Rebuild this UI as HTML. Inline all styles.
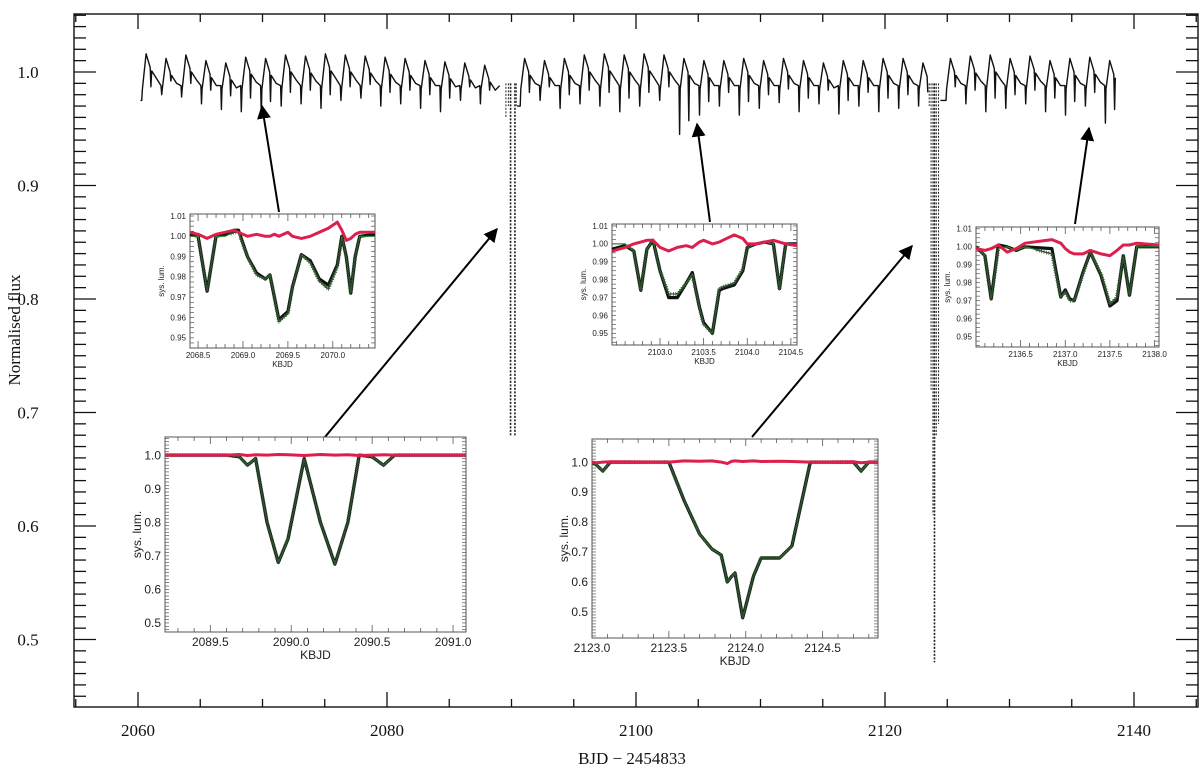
<!DOCTYPE html>
<html><head><meta charset="utf-8"><style>
html,body{margin:0;padding:0;background:#fff}
svg{display:block}
.ax{font-family:"Liberation Serif","DejaVu Serif",serif;font-size:17px;fill:#111}
.in{font-family:"Liberation Sans","DejaVu Sans",sans-serif;fill:#222}
</style></head><body>
<svg id="chart" xmlns="http://www.w3.org/2000/svg" width="1200" height="773" viewBox="0 0 1200 773">
<defs><marker id="ah" viewBox="0 0 10 10" refX="9" refY="5" markerWidth="7" markerHeight="7" orient="auto-start-reverse"><path d="M0,0 L10,5 L0,10 z" fill="#000"/></marker></defs>
<g id="main"></g>
<g id="arrows"></g>
<g id="insets"></g>
</svg>
<script>
// main light curve cycle data
const dipT=[2060.3,2061.9,2063.5,2065.1,2066.7,2068.3,2069.9,2071.5,2073.1,2074.7,2076.3,2077.9,2079.5,2081.1,2082.7,2084.3,2085.9,2087.5,2090.7,2092.3,2093.9,2095.5,2097.1,2098.7,2100.3,2101.9,2103.5,2105.1,2106.7,2108.3,2109.9,2111.5,2113.1,2114.7,2116.3,2117.9,2119.5,2121.1,2122.7,2124.9,2126.5,2128.1,2129.7,2131.3,2132.9,2134.5,2136.1,2137.7];
const dipF=[0.975,0.980,0.978,0.972,0.967,0.965,0.962,0.970,0.972,0.968,0.975,0.977,0.970,0.972,0.968,0.965,0.975,0.972,0.970,0.975,0.968,0.972,0.970,0.965,0.970,0.975,0.945,0.962,0.970,0.962,0.968,0.973,0.965,0.972,0.963,0.970,0.965,0.968,0.970,0.975,0.972,0.965,0.968,0.972,0.965,0.962,0.970,0.955];
const peakF=[1.016,1.012,1.015,1.010,1.008,1.013,1.012,1.015,1.014,1.016,1.015,1.014,1.013,1.012,1.010,1.009,1.008,1.006,1.012,1.010,1.012,1.015,1.016,1.015,1.016,1.015,1.012,1.010,1.010,1.012,1.010,1.012,1.010,1.008,1.010,1.010,1.012,1.012,1.008,1.012,1.014,1.015,1.012,1.014,1.010,1.012,1.013,1.010];
const segStart=[2060.2,2090.45,2124.45];
const segEnd=[2089.3,2123.45,2138.8];
const ecl1T=[2089.55,2089.75,2089.9,2089.95,2090.25,2090.3,2090.38];
const ecl1Min=[0.96,0.97,0.68,0.68,0.68,0.68,0.97];
const ecl2T=[2123.55,2123.7,2123.85,2123.95,2124.0,2124.12,2124.3];
const ecl2Min=[0.97,0.72,0.61,0.48,0.48,0.68,0.69];
const xTickLabels=["2060","2080","2100","2120","2140"];
const yTickLabels=["0.5","0.6","0.7","0.8","0.9","1.0"];

// inset data
const aT=[2068.41,2068.5,2068.6,2068.7,2068.8,2068.9,2068.95,2069.05,2069.15,2069.25,2069.3,2069.35,2069.4,2069.5,2069.55,2069.65,2069.75,2069.85,2069.95,2070.05,2070.1,2070.15,2070.2,2070.25,2070.3,2070.47];
const aModel=[1.0,1.0,0.973,1.0,1.0,1.002,1.002,0.99,0.981,0.979,0.981,0.97,0.958,0.962,0.975,0.991,0.987,0.978,0.974,0.985,1.0,0.99,0.972,0.99,1.0,1.0];
const aData=[1.001,1.0,0.973,1.0,1.001,1.003,1.003,0.99,0.982,0.979,0.981,0.97,0.959,0.963,0.975,0.991,0.988,0.979,0.976,0.986,1.0,0.99,0.972,0.99,1.0,1.001];
const aRes=[1.002,1.001,0.999,1.001,1.002,1.003,1.002,1.0,1.001,1.0,1.0,1.001,1.0,1.002,1.0,0.999,1.0,1.002,1.004,1.007,1.003,0.998,0.999,1.001,1.002,1.002];
const bT=[2089.22,2089.6,2089.68,2089.73,2089.78,2089.85,2089.92,2089.98,2090.08,2090.18,2090.27,2090.35,2090.42,2090.5,2090.57,2090.64,2091.08];
const bModel=[1.0,1.0,0.995,0.97,0.99,0.8,0.68,0.75,0.99,0.8,0.675,0.8,1.0,0.995,0.97,1.0,1.0];
const bRes=[1.0,1.0,1.002,0.999,1.001,1.0,1.002,1.001,0.999,1.002,1.0,1.001,0.999,1.0,1.001,1.0,1.0];
const cT=[2123.0,2123.03,2123.07,2123.12,2123.5,2123.6,2123.7,2123.78,2123.84,2123.88,2123.91,2123.93,2123.98,2124.05,2124.1,2124.22,2124.3,2124.42,2124.7,2124.75,2124.8,2124.86];
const cModel=[1.0,0.99,0.97,1.0,1.0,0.87,0.76,0.71,0.69,0.6,0.62,0.63,0.48,0.62,0.68,0.68,0.72,1.0,1.0,0.97,1.0,1.0];
const cRes=[1.0,0.998,1.0,1.001,1.0,1.004,1.003,1.004,1.0,0.995,1.003,1.004,1.002,1.004,1.002,1.003,1.002,1.0,1.001,0.998,1.0,1.0];
const dT=[2102.45,2102.6,2102.7,2102.78,2102.85,2102.92,2103.0,2103.1,2103.2,2103.3,2103.37,2103.45,2103.5,2103.6,2103.68,2103.72,2103.85,2103.95,2104.0,2104.1,2104.2,2104.3,2104.37,2104.44,2104.57];
const dModel=[1.0,1.0,0.996,0.974,0.997,1.002,0.985,0.972,0.972,0.978,0.983,0.965,0.955,0.95,0.975,0.976,0.978,0.986,0.998,1.0,1.001,1.0,0.975,1.0,1.0];
const dData=[0.997,0.999,0.996,0.974,0.997,1.002,0.985,0.970,0.970,0.978,0.984,0.965,0.956,0.95,0.974,0.975,0.977,0.985,0.998,1.0,1.001,1.0,0.975,1.0,1.0];
const dRes=[0.996,0.998,1.0,1.001,1.002,1.002,0.998,0.996,0.998,0.999,0.998,1.001,1.002,1.0,1.001,1.002,1.005,1.003,1.0,1.0,1.001,1.002,1.001,1.0,0.999];
const eT=[2136.0,2136.1,2136.17,2136.25,2136.35,2136.45,2136.55,2136.85,2136.95,2137.0,2137.05,2137.1,2137.2,2137.28,2137.4,2137.5,2137.58,2137.65,2137.72,2137.8,2138.05];
const eModel=[1.0,0.995,0.971,0.999,1.0,0.998,1.0,0.996,0.972,0.975,0.97,0.97,0.985,0.997,0.985,0.968,0.972,0.995,0.973,1.0,1.0];
const eData=[1.0,0.995,0.971,1.001,1.0,0.998,1.0,0.999,0.972,0.976,0.971,0.970,0.986,0.997,0.984,0.967,0.970,0.995,0.973,1.0,1.0];
const eRes=[0.999,0.998,0.999,1.001,0.997,0.999,1.002,1.004,1.002,0.999,0.997,0.996,0.996,0.998,0.996,0.995,0.998,1.001,1.001,1.002,1.001];

const NS="http://www.w3.org/2000/svg";
function mk(tag,attrs,parent){const e=document.createElementNS(NS,tag);for(const k in attrs)e.setAttribute(k,attrs[k]);parent.appendChild(e);return e;}

// main axes
const L=74,R=1198,T=14,B=707;
const X=t=>138+(t-2060)*12.45;
const Y=f=>72+(1-f)*1135;
const main=document.getElementById('main');
const frame=mk('rect',{x:L,y:T,width:R-L,height:B-T,fill:'none',stroke:'#111','stroke-width':1.4},main);


for(let v=2055;v<=2145;v+=5){const x=X(v);if(x<=L||x>=R)continue;const len=(v%20===0)?15:8;
 mk('line',{x1:x,y1:B,x2:x,y2:B-len,stroke:'#111','stroke-width':1.3},main);
 mk('line',{x1:x,y1:T,x2:x,y2:T+len,stroke:'#111','stroke-width':1.3},main);}
xTickLabels.forEach(s=>{const t=mk('text',{x:X(+s),y:736,'text-anchor':'middle',class:'ax'},main);t.textContent=s;
 
 });
for(let i=44;i<=105;i++){const f=i/100;const y=Y(f);if(y<=T||y>=B)continue;const len=(i%10===0)?22:12;
 mk('line',{x1:L,y1:y,x2:L+len,y2:y,stroke:'#111','stroke-width':1.3},main);
 mk('line',{x1:R,y1:y,x2:R-len,y2:y,stroke:'#111','stroke-width':1.3},main);}
yTickLabels.forEach(s=>{const t=mk('text',{x:28,y:Y(+s)+6,'text-anchor':'middle',class:'ax'},main);t.textContent=s;
 
 });
const xl=mk('text',{x:632,y:764,'text-anchor':'middle',class:'ax'},main);xl.textContent='BJD − 2454833';


const yl=mk('text',{x:0,y:0,'text-anchor':'middle',class:'ax',transform:'translate(20,330) rotate(-90)'},main);yl.textContent='Normalised flux';



// build light curve points
const pts=[];
const offs=[0,0.05,0.35,0.68,0.74,0.8,1.2,1.55];
dipT.forEach((t,i)=>{const p=peakF[i];const d=dipF[i];
 const fl=[d,0.985,p,p-0.012,d+0.012,p-0.015,p-0.022,0.988];
 offs.forEach((o,j)=>pts.push([t+o,fl[j]]));});
pts.sort((a,b)=>a[0]-b[0]);
segStart.forEach((s,k)=>{const e=segEnd[k];const sp=pts.filter(p=>p[0]>=s&&p[0]<=e);
 if(!sp.length)return;
 const d=[[s,sp[0][1]],...sp].map((p,i)=>(i?'L':'M')+X(p[0]).toFixed(1)+','+Y(p[1]).toFixed(1)).join('');
 const path=mk('path',{d:d,fill:'none',stroke:'#111','stroke-width':1.4,'stroke-linejoin':'round'},main);
 
 });
[[ecl1T,ecl1Min],[ecl2T,ecl2Min]].forEach(([ts,ms])=>{ts.forEach((t,i)=>{
 const ln=mk('line',{x1:X(t),y1:Y(0.99),x2:X(t),y2:Y(ms[i]),stroke:'#222','stroke-width':1,'stroke-dasharray':'2,1.5'},main);
 
 });});

// arrows
const arrowG=document.getElementById('arrows');
[[279,212,262,106],[325,437,497,229],[710,222,697,124],[752,437,912,246],[1075,224,1089,128]].forEach(a=>{
 const ln=mk('line',{x1:a[0],y1:a[1],x2:a[2],y2:a[3],stroke:'#000','stroke-width':2,'marker-end':'url(#ah)'},arrowG);
 
 });

// insets
const insetG=document.getElementById('insets');
function inset(name,box,xr,yr,xt,yt,fmtY,fs,T_,model,data,res,minorX,minorY){
 const g=mk('g',{},insetG);
 
 
 const [x0,y0,x1,y1]=box;
 const sx=t=>x0+(t-xr[0])/(xr[1]-xr[0])*(x1-x0);
 const sy=f=>y1-(f-yr[0])/(yr[1]-yr[0])*(y1-y0);
 mk('rect',{x:x0,y:y0,width:x1-x0,height:y1-y0,fill:'#fff',stroke:'#555','stroke-width':1},g);
 for(let v=Math.ceil(xr[0]/minorX)*minorX;v<=xr[1];v+=minorX){const x=sx(v);const maj=xt.some(m=>Math.abs(m-v)<1e-6);
  mk('line',{x1:x,y1:y1,x2:x,y2:y1-(maj?7:4),stroke:'#555','stroke-width':0.8},g);
  mk('line',{x1:x,y1:y0,x2:x,y2:y0+(maj?7:4),stroke:'#555','stroke-width':0.8},g);}
 for(let v=Math.ceil(yr[0]/minorY)*minorY;v<=yr[1];v+=minorY){const y=sy(v);
  mk('line',{x1:x0,y1:y,x2:x0+4,y2:y,stroke:'#555','stroke-width':0.7},g);
  mk('line',{x1:x1,y1:y,x2:x1-4,y2:y,stroke:'#555','stroke-width':0.7},g);}
 xt.forEach(v=>{const t=mk('text',{x:sx(v),y:y1+fs+2,'text-anchor':'middle',class:'in','font-size':fs},g);t.textContent=v.toFixed(1);
  
  });
 yt.forEach(v=>{const t=mk('text',{x:x0-4,y:sy(v)+fs*0.35,'text-anchor':'end',class:'in','font-size':fs},g);t.textContent=v.toFixed(fmtY);
  
  });
 const kb=mk('text',{x:(x0+x1)/2,y:y1+2*fs+3,'text-anchor':'middle',class:'in','font-size':fs},g);kb.textContent='KBJD';
 
 
 const sl=mk('text',{x:0,y:0,'text-anchor':'middle',class:'in','font-size':fs,transform:`translate(${x0-(fmtY===2?26:24)},${(y0+y1)/2}) rotate(-90)`},g);sl.textContent='sys. lum.';
 
 
 const path=(arr)=>arr.map((f,i)=>(i?'L':'M')+sx(T_[i]).toFixed(1)+','+sy(f).toFixed(1)).join('');
 const cp=mk('clipPath',{id:'cp'+name},g);mk('rect',{x:x0,y:y0,width:x1-x0,height:y1-y0},cp);
 const inner=mk('g',{'clip-path':'url(#cp'+name+')'},g);
 const dl=mk('path',{d:path(data),fill:'none',stroke:'#111','stroke-width':3.2,'stroke-linejoin':'round'},inner);
 
 
 const ml=mk('path',{d:path(model),fill:'none',stroke:'#2a8a2a','stroke-width':1.2},inner);
 
 
 const len=ml.getTotalLength();let pl='';
 for(let s=0;s<len;s+=2.5){const p=ml.getPointAtLength(s);if(Math.abs(p.y-sy(1.0))<2.5&&fs<11)continue;pl+=`M${(p.x-2).toFixed(1)},${p.y.toFixed(1)}h4M${p.x.toFixed(1)},${(p.y-2).toFixed(1)}v4`;}
 mk('path',{d:pl,stroke:'#2f4f2f','stroke-width':0.7,fill:'none'},inner);
 const rl=mk('path',{d:path(res),fill:'none',stroke:'#dc1f4c','stroke-width':3,'stroke-linejoin':'round'},inner);
 
 
}
inset('inset-2069',[190,214,375,348],[2068.41,2070.47],[0.945,1.011],[2068.5,2069.0,2069.5,2070.0],[1.01,1.00,0.99,0.98,0.97,0.96,0.95],2,8,aT,aModel,aData,aRes,0.1,0.0025);
inset('inset-2090',[165,437,466,632],[2089.22,2091.08],[0.473,1.054],[2089.5,2090.0,2090.5,2091.0],[1.0,0.9,0.8,0.7,0.6,0.5],1,12,bT,bModel,bModel,bRes,0.1,0.01);
inset('inset-2124',[592,439,878,638],[2123.0,2124.86],[0.413,1.077],[2123.0,2123.5,2124.0,2124.5],[1.0,0.9,0.8,0.7,0.6,0.5],1,12,cT,cModel,cModel,cRes,0.1,0.01);
inset('inset-2103',[612,224,797,345],[2102.45,2104.57],[0.9435,1.0111],[2103.0,2103.5,2104.0,2104.5],[1.01,1.00,0.99,0.98,0.97,0.96,0.95],2,8,dT,dModel,dData,dRes,0.1,0.0025);
inset('inset-2137',[976,227,1159,347],[2136.0,2138.05],[0.9442,1.011],[2136.5,2137.0,2137.5,2138.0],[1.01,1.00,0.99,0.98,0.97,0.96,0.95],2,8,eT,eModel,eData,eRes,0.1,0.0025);
</script>
</body></html>
